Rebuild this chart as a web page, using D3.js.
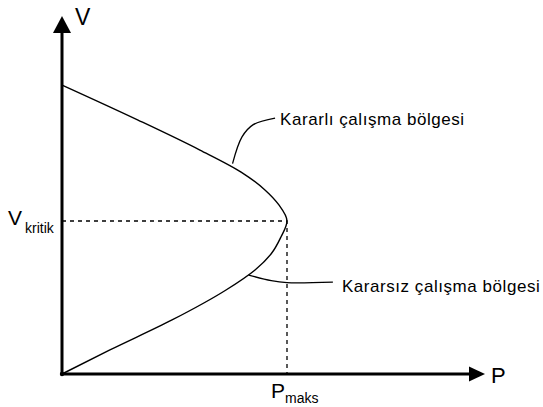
<!DOCTYPE html>
<html>

<head>
  <title>P-V curve</title>
  <style>
    body,
    html {
      margin: 0;
      padding: 0;
      background: #fff;
    }

    svg text {
      font-family: "Liberation Sans", Arial, sans-serif;
      fill: #000;
    }
  </style>
</head>

<body>
  <svg id="svg" width="543" height="407"></svg>

  <script src="https://d3js.org/d3.v7.min.js"></script>

  <script>
    // nose curve (P relative to Pmaks, V relative to Vkritik)
    const curveP = [0, 0.338, 0.613, 0.796, 0.902, 0.964, 1, 0.973, 0.929, 0.858, 0.729, 0.489, 0.213, 0]
    const curveV = [1.889, 1.66, 1.464, 1.32, 1.203, 1.105, 1, 0.895, 0.784, 0.68, 0.549, 0.353, 0.157, 0]

    const pMax = 1
    const vCrit = 1
    const axisEndP = 1.88
    const axisEndV = 2.34

    const axisNames = ["V", "P"]
    const critLabels = [["V", "kritik"], ["P", "maks"]]

    const regionNames = ["Kararlı çalışma bölgesi", "Kararsız çalışma bölgesi"]
    const stableLeaderP = [0.758, 0.8, 0.85, 0.947]
    const stableLeaderV = [1.375, 1.55, 1.63, 1.673]
    const unstableLeaderP = [0.83, 0.93, 1.0, 1.204]
    const unstableLeaderV = [0.647, 0.61, 0.597, 0.601]

    const svg = d3.select("#svg")

    const xScale = d3.scaleLinear().domain([0, pMax]).range([62, 287])
    const yScale = d3.scaleLinear().domain([0, vCrit]).range([374, 221])

    const x0 = xScale(0), y0 = yScale(0)
    const xEnd = xScale(axisEndP), yEnd = yScale(axisEndV)

    // dashed guide lines
    svg.append("path")
      .attr("d", `M${x0},${yScale(vCrit)}H${xScale(pMax)}V${y0}`)
      .attr("fill", "none")
      .attr("stroke", "#000")
      .attr("stroke-width", 1.3)
      .attr("stroke-dasharray", "4,4")

    // curve (V falls monotonically along it)
    const pts = curveP.map((p, i) => [p, curveV[i]])
    const curveLine = d3.line()
      .x(d => xScale(d[0]))
      .y(d => yScale(d[1]))
      .curve(d3.curveMonotoneY)

    svg.append("path")
      .attr("d", curveLine(pts))
      .attr("fill", "none")
      .attr("stroke", "#000")
      .attr("stroke-width", 1.4)

    // leaders
    const leaderLine = d3.line()
      .x(d => xScale(d[0]))
      .y(d => yScale(d[1]))
      .curve(d3.curveCatmullRom.alpha(0.5))

    const leaders = [
      stableLeaderP.map((p, i) => [p, stableLeaderV[i]]),
      unstableLeaderP.map((p, i) => [p, unstableLeaderV[i]])
    ]
    leaders.forEach(l => {
      svg.append("path")
        .attr("d", leaderLine(l))
        .attr("fill", "none")
        .attr("stroke", "#000")
        .attr("stroke-width", 1.3)
    })

    regionNames.forEach((name, i) => {
      const last = leaders[i][leaders[i].length - 1]
      svg.append("text")
        .attr("x", xScale(last[0]) + (i === 0 ? 5 : 9))
        .attr("y", yScale(last[1]) + (i === 0 ? 7 : 10))
        .attr("font-size", 17)
        .attr("letter-spacing", 0.55)
        .text(name)
    })

    // axes
    svg.append("line")
      .attr("x1", x0).attr("y1", y0)
      .attr("x2", x0).attr("y2", yEnd + 14)
      .attr("stroke", "#000").attr("stroke-width", 3)
    svg.append("line")
      .attr("x1", x0 - 1).attr("y1", y0)
      .attr("x2", xEnd - 12).attr("y2", y0)
      .attr("stroke", "#000").attr("stroke-width", 3)

    svg.append("path")
      .attr("d", `M${x0},${yEnd}L${x0 - 9},${yEnd + 17}L${x0 + 9},${yEnd + 17}Z`)
      .attr("fill", "#000")
    svg.append("path")
      .attr("d", `M${xEnd},${y0}L${xEnd - 16},${y0 - 7.5}L${xEnd - 16},${y0 + 7.5}Z`)
      .attr("fill", "#000")

    svg.append("circle").attr("cx", x0).attr("cy", y0).attr("r", 2.2).attr("fill", "#000")

    // axis names
    svg.append("text")
      .attr("x", x0 + 13).attr("y", yEnd + 9)
      .attr("font-size", 23)
      .text(axisNames[0])
    svg.append("text")
      .attr("x", xEnd + 6).attr("y", y0 + 9)
      .attr("font-size", 22)
      .text(axisNames[1])

    // critical value labels
    const vk = svg.append("text")
      .attr("x", 8).attr("y", yScale(vCrit) + 4)
    vk.append("tspan").attr("font-size", 21).text(critLabels[0][0])
    vk.append("tspan").attr("font-size", 14).attr("dx", 3).attr("dy", 8).text(critLabels[0][1])

    const pm = svg.append("text")
      .attr("x", xScale(pMax) - 16).attr("y", y0 + 24)
    pm.append("tspan").attr("font-size", 21).text(critLabels[1][0])
    pm.append("tspan").attr("font-size", 14).attr("dx", 0).attr("dy", 5).text(critLabels[1][1])
  </script>
</body>

</html>
